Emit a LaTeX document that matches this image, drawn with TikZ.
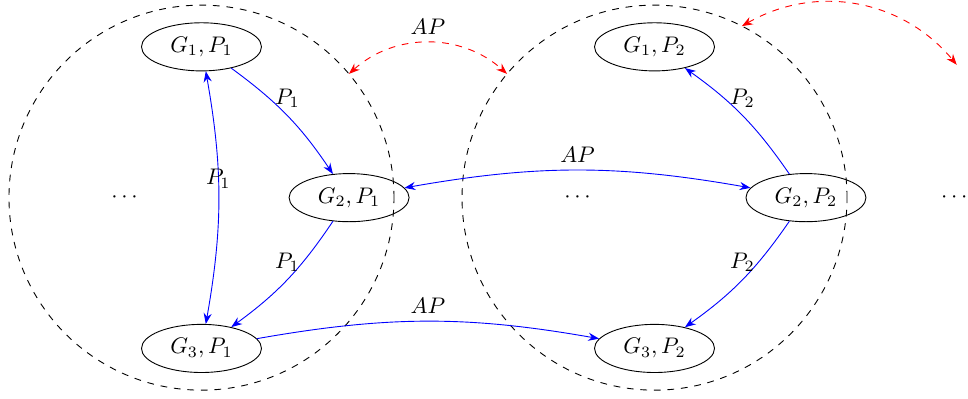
\documentclass[tikz,border=0pt]{standalone}
\usepackage{tikz}
\usetikzlibrary{arrows.meta, calc, shapes.geometric}
\definecolor{gpLink}{HTML}{0000FF}
\definecolor{gpHop}{HTML}{FF0000}
\newlength{\gpR}
\setlength{\gpR}{3cm}
\newlength{\gpUp}
\setlength{\gpUp}{2.35cm}
\tikzset{
  gpstate/.style={
    draw, ellipse, minimum width=1.87cm, minimum height=0.75cm, inner sep=0pt,
  },
  gpring/.style={draw, dashed},
  gplink/.style={-{Stealth}, draw=gpLink},
  gpboth/.style={{Stealth}-{Stealth}, draw=gpLink},
  gphop/.style={{Stealth}-{Stealth}, draw=gpHop, dashed},
}

\begin{document}
\begin{tikzpicture}

\useasboundingbox (-3.14,-3.125) rectangle (11.945,3.08);

% Group P1 ----------------------------------------------------------------
\coordinate (c1) at (0,0);
\node[gpstate] (g1p1) at ($(c1)+(0,\gpUp)$) {$G_1, P_1$};
\node[gpstate] (g2p1) at ($(c1)+(2.3,0)$) {$G_2, P_1$};
\node[gpstate] (g3p1) at ($(c1)+(0,-\gpUp)$) {$G_3, P_1$};
\node (d1) at ($(c1)+(-1.2,0)$) {$\cdots$};
\draw[gpring] (c1) circle[radius=\gpR];

% Group P2 ----------------------------------------------------------------
\coordinate (c2) at (7.06,0);
\node[gpstate] (g1p2) at ($(c2)+(0,\gpUp)$) {$G_1, P_2$};
\node[gpstate] (g2p2) at ($(c2)+(2.36,0)$) {$G_2, P_2$};
\node[gpstate] (g3p2) at ($(c2)+(0,-\gpUp)$) {$G_3, P_2$};
\node (d2) at ($(c2)+(-1.2,0)$) {$\cdots$};
\draw[gpring] (c2) circle[radius=\gpR];

\node (d3) at (11.73,0) {$\cdots$};

% Moves inside a group ----------------------------------------------------
\draw[gpboth] (g3p1) to[bend right=10] node[pos=0.58] {$P_1$} (g1p1);
\draw[gplink] (g1p1) to[bend left=10] node[midway, above] {$P_1$} (g2p1);
\draw[gplink] (g2p1) to[bend left=10] node[midway, above] {$P_1$} (g3p1);
\draw[gplink] (g2p2) to[bend right=10] node[midway, above] {$P_2$} (g1p2);
\draw[gplink] (g2p2) to[bend left=10] node[midway, above] {$P_2$} (g3p2);

% Moves between groups ----------------------------------------------------
\draw[gpboth] (g2p1) to[bend left=10] node[above] {$AP$} (g2p2);
\draw[gplink] (g3p1) to[bend left=10] node[above] {$AP$} (g3p2);

\coordinate (h1) at ($(c1)+(40:\gpR)$);
\coordinate (h2) at ($(c2)+(140:\gpR)$);
\coordinate (h3) at ($(c2)+(63:\gpR)$);
\coordinate (h4) at (11.77,2.07);
\draw[gphop] (h1) to[bend left=42] node[above] {$AP$} (h2);
\draw[gphop] (h3) to[bend left=40] (h4);

\end{tikzpicture}
\end{document}
